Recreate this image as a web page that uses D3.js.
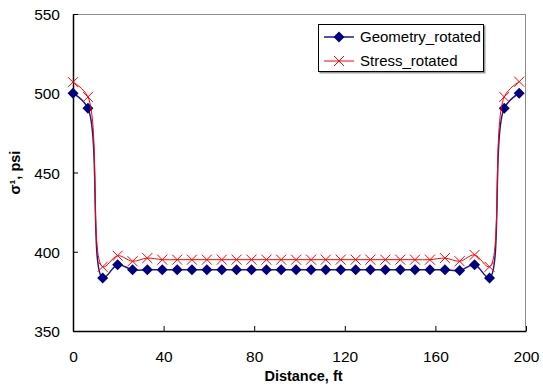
<!DOCTYPE html>
<html>
<head>
<meta charset="utf-8">
<script src="https://cdn.jsdelivr.net/npm/d3@7"></script>
<style>
  body { margin: 0; background: #fff; }
  text { font-family: "Liberation Sans", Arial, sans-serif; }
</style>
</head>
<body>
<div id="chart"></div>
<script>
'use strict';

// distance along the section, ft
const distance = [0, 6.6, 13.1, 19.7, 26.3, 32.8, 39.4, 46.0, 52.5, 59.1, 65.7,
  72.2, 78.8, 85.4, 91.9, 98.5, 105.1, 111.6, 118.2, 124.8, 131.3,
  137.9, 144.5, 151.0, 157.6, 164.2, 170.7, 177.3, 183.9, 190.4, 197.0];

const geometryRotated = [500, 490.5, 383.5, 391.8, 388.6, 388.6, 388.6, 388.6, 388.6, 388.6, 388.6,
  388.6, 388.6, 388.6, 388.6, 388.6, 388.6, 388.6, 388.6, 388.6, 388.6,
  388.6, 388.6, 388.6, 388.6, 388.6, 388.2, 391.8, 383.5, 490.5, 500];

const stressRotated = [507, 497.7, 390.5, 397.5, 394, 396, 395, 395, 395, 395, 395,
  395, 395, 395, 395, 395, 395, 395, 395, 395, 395,
  395, 395, 395, 395, 396, 394, 398, 390.5, 497.7, 507.3];

const xTicks = [0, 40, 80, 120, 160, 200];
const yTicks = [350, 400, 450, 500, 550];

const seriesNames = ['Geometry_rotated', 'Stress_rotated'];

const W = 543, H = 389;
const margin = { top: 14, right: 17, bottom: 58, left: 73 };
const width = W - margin.left - margin.right,
      height = H - margin.top - margin.bottom;

const svg = d3.select('#chart').append('svg')
    .attr('width', W)
    .attr('height', H);

const g = svg.append('g')
    .attr('transform', `translate(${margin.left}, ${margin.top})`);

const x = d3.scaleLinear().domain([0, 200]).range([0, width]);
const y = d3.scaleLinear().domain([350, 550]).range([height, 0]);

// frame: grey on top/right, black axes
g.append('line')
    .attr('x1', 0).attr('x2', width).attr('y1', 0.5).attr('y2', 0.5)
    .attr('stroke', '#8c8c8c');
g.append('line')
    .attr('x1', width - 0.5).attr('x2', width - 0.5).attr('y1', 0).attr('y2', height)
    .attr('stroke', '#8c8c8c');

const xAxis = d3.axisBottom(x).tickValues(xTicks).tickSizeInner(-5).tickSizeOuter(0).tickPadding(20);
const yAxis = d3.axisLeft(y).tickValues(yTicks).tickSizeInner(-5).tickSizeOuter(0).tickPadding(13);

const gx = g.append('g')
    .attr('transform', `translate(0, ${height})`)
    .call(xAxis);
const gy = g.append('g').call(yAxis);

[gx, gy].forEach(a => {
  a.select('.domain').attr('stroke', '#000').attr('stroke-width', 1.5);
  a.selectAll('.tick line').attr('stroke', '#000');
  a.selectAll('.tick text')
      .attr('fill', '#000')
      .style('font-size', '15.5px')
      .style('font-family', '"Liberation Sans", Arial, sans-serif');
});
gy.selectAll('.tick text').attr('dy', '0.36em');

// axis titles
svg.append('text')
    .attr('x', margin.left + width / 2 + 4)
    .attr('y', 381)
    .attr('text-anchor', 'middle')
    .style('font-size', '14.5px')
    .style('font-weight', 'bold')
    .text('Distance, ft');

svg.append('text')
    .attr('transform', `translate(20, ${margin.top + height / 2}) rotate(-90)`)
    .attr('text-anchor', 'middle')
    .style('font-size', '14.5px')
    .style('font-weight', 'bold')
    .text('σ¹, psi');

const line = d3.line()
    .x(d => x(d[0]))
    .y(d => y(d[1]))
    .curve(d3.curveCatmullRom.alpha(0.5));

const geo = distance.map((d, i) => [d, geometryRotated[i]]);
const str = distance.map((d, i) => [d, stressRotated[i]]);

const diamond = s => `M0,${-s}L${s},0L0,${s}L${-s},0Z`;
const cross = s => `M${-s},${-s}L${s},${s}M${-s},${s}L${s},${-s}`;

g.append('path')
    .datum(geo)
    .attr('fill', 'none')
    .attr('stroke', '#1a1a8c')
    .attr('stroke-width', 1.5)
    .attr('d', line);

g.selectAll('.geo-pt')
    .data(geo)
  .enter().append('path')
    .attr('class', 'geo-pt')
    .attr('transform', d => `translate(${x(d[0])}, ${y(d[1])})`)
    .attr('d', diamond(5.5))
    .attr('fill', '#000080');

g.append('path')
    .datum(str)
    .attr('fill', 'none')
    .attr('stroke', '#ff0000')
    .attr('stroke-width', 1)
    .attr('d', line);

g.selectAll('.str-pt')
    .data(str)
  .enter().append('path')
    .attr('class', 'str-pt')
    .attr('transform', d => `translate(${x(d[0])}, ${y(d[1])})`)
    .attr('d', cross(5))
    .attr('fill', 'none')
    .attr('stroke', '#ff0000')
    .attr('stroke-width', 1);

// legend
const lg = svg.append('g').attr('transform', 'translate(318, 24)');
lg.append('rect')
    .attr('x', 1.5).attr('y', 1.5)
    .attr('width', 166).attr('height', 48)
    .attr('fill', '#999');
lg.append('rect')
    .attr('x', 0.5).attr('y', 0.5)
    .attr('width', 165).attr('height', 47)
    .attr('fill', '#fff')
    .attr('stroke', '#000');

seriesNames.forEach((name, i) => {
  const ly = 13 + i * 24;
  lg.append('line')
      .attr('x1', 6).attr('x2', 36).attr('y1', ly).attr('y2', ly)
      .attr('stroke', i === 0 ? '#1a1a8c' : '#ff0000')
      .attr('stroke-width', i === 0 ? 1.5 : 1);
  lg.append('path')
      .attr('transform', `translate(21, ${ly})`)
      .attr('d', i === 0 ? diamond(5.5) : cross(5))
      .attr('fill', i === 0 ? '#000080' : 'none')
      .attr('stroke', i === 0 ? 'none' : '#ff0000');
  lg.append('text')
      .attr('x', 42).attr('y', ly)
      .attr('dy', '0.36em')
      .style('font-size', '15px')
      .text(name);
});
</script>
</body>
</html>
